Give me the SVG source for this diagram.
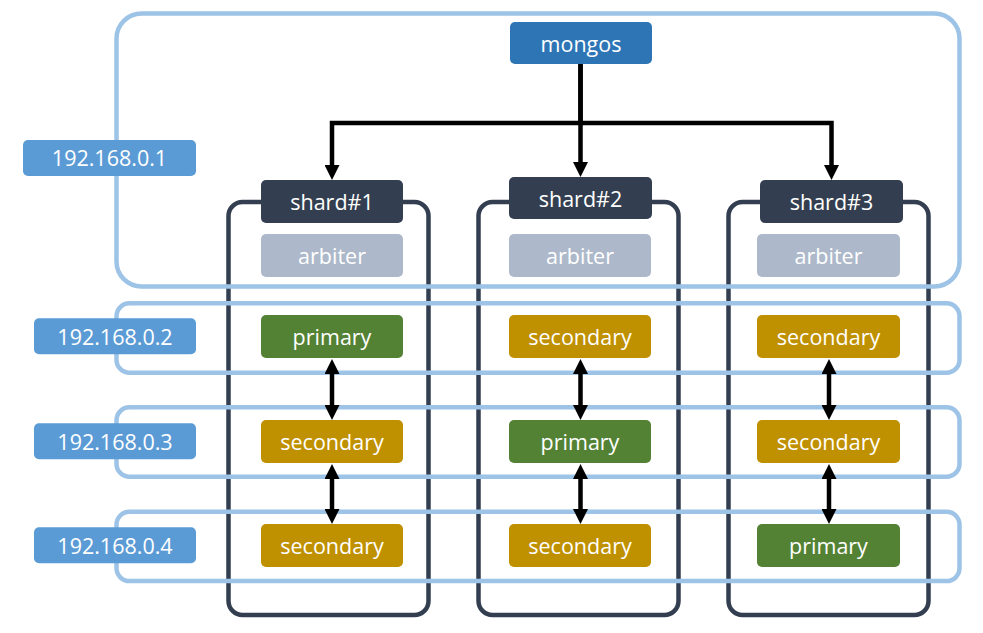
<svg xmlns="http://www.w3.org/2000/svg" width="983" height="633" viewBox="0 0 983 633">
<defs>
<marker id="ah" markerUnits="userSpaceOnUse" markerWidth="15" markerHeight="15" viewBox="0 0 15 15" refX="5" refY="7.5" orient="auto-start-reverse"><path d="M0,0 L15,7.5 L0,15 z" fill="#000"/></marker>
</defs>
<style>
.col{fill:none;stroke:#333F50;stroke-width:4.5}
.host{fill:none;stroke:#9DC3E6;stroke-width:4.5}
.ip{fill:#5B9BD5}
.hdr{fill:#333F50}
.mg{fill:#2E75B6}
.arb{fill:#ADB9CA}
.pri{fill:#548235}
.sec{fill:#BF9000}
text{font-family:"Open Sans","Noto Sans","DejaVu Sans",sans-serif;font-size:21.5px;fill:#fff;text-anchor:middle}
.cn{fill:none;stroke:#000;stroke-width:4.5}
</style>
<rect width="983" height="633" fill="#fff"/>
<g id="shard-columns">
<rect class="col" x="228.5" y="202" width="200" height="413" rx="14"/>
<rect class="col" x="478.5" y="202" width="200" height="413" rx="14"/>
<rect class="col" x="728.5" y="202" width="200" height="413" rx="14"/>
</g>
<g id="host1"><rect class="host" x="116.5" y="13.5" width="843" height="273" rx="25"/><rect class="ip" x="23" y="140" width="173" height="36" rx="5"/><text x="109.5" y="166">192.168.0.1</text></g>
<g id="host2"><rect class="host" x="116.5" y="303.3" width="843" height="69.4" rx="13"/><rect class="ip" x="34" y="318.3" width="162" height="36" rx="5"/><text x="115" y="344.8">192.168.0.2</text></g>
<g id="host3"><rect class="host" x="116.5" y="407.3" width="843" height="69.4" rx="13"/><rect class="ip" x="34" y="423.3" width="162" height="36" rx="5"/><text x="115" y="449.8">192.168.0.3</text></g>
<g id="host4"><rect class="host" x="116.5" y="511.7" width="843" height="69.4" rx="13"/><rect class="ip" x="34" y="527.3" width="162" height="36" rx="5"/><text x="115" y="553.8">192.168.0.4</text></g>
<g id="mongos"><rect class="mg" x="510" y="22" width="142" height="42" rx="5"/><text x="581" y="51.5">mongos</text></g>
<g id="shard1"><rect class="hdr" x="261" y="180" width="142" height="43" rx="5"/><text x="332" y="210">shard#1</text></g>
<g id="shard2"><rect class="hdr" x="509" y="177" width="143" height="42" rx="5"/><text x="580.5" y="206.5">shard#2</text></g>
<g id="shard3"><rect class="hdr" x="760" y="180" width="143" height="43" rx="5"/><text x="831.5" y="210">shard#3</text></g>
<g id="arbiter1"><rect class="arb" x="261" y="234" width="142" height="43" rx="5"/><text x="332" y="264">arbiter</text></g>
<g id="arbiter2"><rect class="arb" x="509" y="234" width="142" height="43" rx="5"/><text x="580" y="264">arbiter</text></g>
<g id="arbiter3"><rect class="arb" x="757" y="234" width="143" height="43" rx="5"/><text x="828.5" y="264">arbiter</text></g>
<g id="s1-primary"><rect class="pri" x="261" y="315" width="142" height="43" rx="5"/><text x="332" y="345">primary</text></g>
<g id="s1-secondary-a"><rect class="sec" x="261" y="420" width="142" height="43" rx="5"/><text x="332" y="450">secondary</text></g>
<g id="s1-secondary-b"><rect class="sec" x="261" y="524" width="142" height="43" rx="5"/><text x="332" y="554">secondary</text></g>
<g id="s2-secondary-a"><rect class="sec" x="509" y="315" width="142" height="43" rx="5"/><text x="580" y="345">secondary</text></g>
<g id="s2-primary"><rect class="pri" x="509" y="420" width="142" height="43" rx="5"/><text x="580" y="450">primary</text></g>
<g id="s2-secondary-b"><rect class="sec" x="509" y="524" width="142" height="43" rx="5"/><text x="580" y="554">secondary</text></g>
<g id="s3-secondary-a"><rect class="sec" x="757" y="315" width="143" height="43" rx="5"/><text x="828.5" y="345">secondary</text></g>
<g id="s3-secondary-b"><rect class="sec" x="757" y="420" width="143" height="43" rx="5"/><text x="828.5" y="450">secondary</text></g>
<g id="s3-primary"><rect class="pri" x="757" y="524" width="143" height="43" rx="5"/><text x="828.5" y="554">primary</text></g>
<g id="connectors">
<path class="cn" d="M580.5,64 V123 H332 V170" marker-end="url(#ah)"/>
<path class="cn" d="M580.5,64 V167" marker-end="url(#ah)"/>
<path class="cn" d="M580.5,123 H831.5 V170" marker-end="url(#ah)"/>
<path class="cn" d="M332,369 V410" marker-start="url(#ah)" marker-end="url(#ah)"/>
<path class="cn" d="M332,474 V514" marker-start="url(#ah)" marker-end="url(#ah)"/>
<path class="cn" d="M580.5,369 V410" marker-start="url(#ah)" marker-end="url(#ah)"/>
<path class="cn" d="M580.5,474 V514" marker-start="url(#ah)" marker-end="url(#ah)"/>
<path class="cn" d="M829,369 V410" marker-start="url(#ah)" marker-end="url(#ah)"/>
<path class="cn" d="M829,474 V514" marker-start="url(#ah)" marker-end="url(#ah)"/>
</g>
</svg>
